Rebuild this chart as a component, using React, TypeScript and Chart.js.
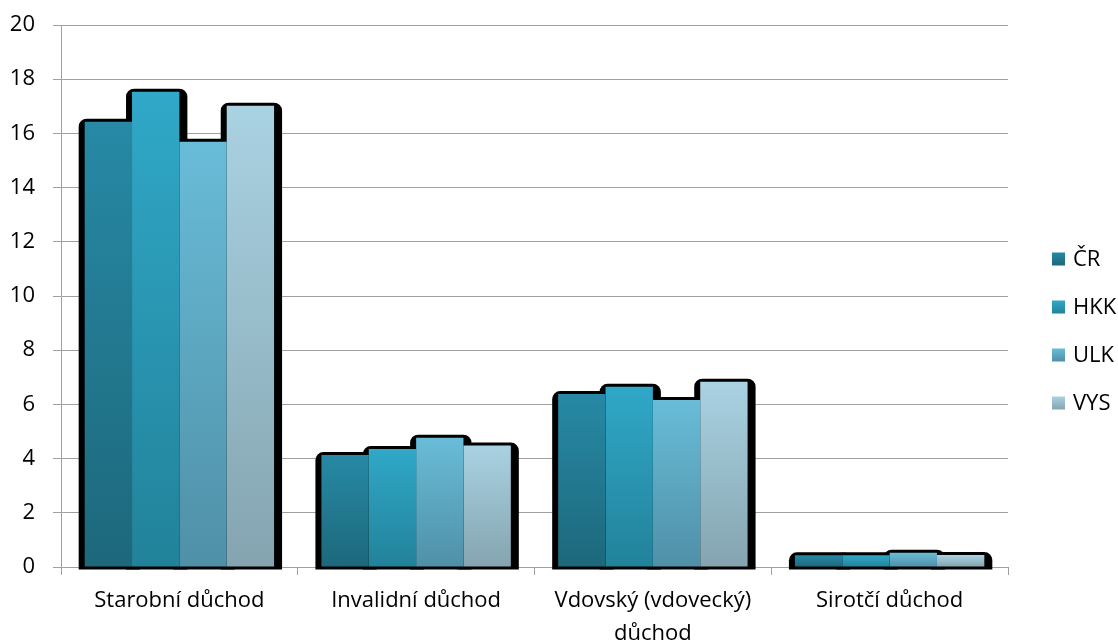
import { useEffect, useRef } from 'react';
import { Chart, registerables } from 'chart.js';

Chart.register(...registerables);

const categories: (string | string[])[] = [
  'Starobní důchod',
  'Invalidní důchod',
  ['Vdovský (vdovecký)', 'důchod'],
  'Sirotčí důchod',
];
const seriesNames = ['ČR', 'HKK', 'ULK', 'VYS'];
const crValues = [16.43, 4.13, 6.38, 0.43];
const hkkValues = [17.54, 4.35, 6.65, 0.43];
const ulkValues = [15.69, 4.77, 6.16, 0.53];
const vysValues = [17.02, 4.48, 6.84, 0.44];
const yMin = 0;
const yMax = 20;
const yStep = 2;

const topColors = ['#2789A5', '#30A8C8', '#69BCD8', '#A9D2E2'];
const bottomColors = ['#1D687B', '#22829A', '#4F90A7', '#84A4B0'];

const FONT = "'Open Sans', sans-serif";
const FONT_SIZE = 22;

function barGradient(i: number) {
  return (context: any) => {
    const chart = context.chart;
    const yScale = chart.scales?.y;
    if (context.type !== 'data' || !yScale) return topColors[i];
    const top = yScale.getPixelForValue(context.raw);
    const base = yScale.getPixelForValue(0);
    if (!isFinite(top) || !isFinite(base) || Math.abs(base - top) < 0.5) return topColors[i];
    const g = chart.ctx.createLinearGradient(0, top, 0, base);
    g.addColorStop(0, topColors[i]);
    g.addColorStop(1, bottomColors[i]);
    return g;
  };
}

const shadowPlugin = {
  id: 'barShadow',
  beforeDatasetsDraw(chart: any) {
    const ctx = chart.ctx;
    ctx.save();
    ctx.fillStyle = '#000000';
    chart.data.datasets.forEach((_ds: any, i: number) => {
      const meta = chart.getDatasetMeta(i);
      meta.data.forEach((bar: any) => {
        const { x, y, base, width } = bar.getProps(['x', 'y', 'base', 'width'], true);
        const l = x - width / 2 - 6;
        const r = x + width / 2 + 8;
        const t = y - 3;
        const b = base + 3;
        ctx.beginPath();
        ctx.roundRect(l, t, r - l, b - t, [8, 8, 0, 0]);
        ctx.fill();
      });
    });
    ctx.restore();
  },
};

const legendPlugin = {
  id: 'sideLegend',
  afterDraw(chart: any) {
    const ctx = chart.ctx;
    const box = 13;
    const boxX = 1052;
    const textX = 1073;
    const firstY = 259;
    const gap = 48;
    ctx.save();
    ctx.font = `${FONT_SIZE}px ${FONT}`;
    ctx.textBaseline = 'middle';
    ctx.textAlign = 'left';
    seriesNames.forEach((name, i) => {
      const cy = firstY + i * gap;
      const g = ctx.createLinearGradient(0, cy - box / 2, 0, cy + box / 2);
      g.addColorStop(0, topColors[i]);
      g.addColorStop(1, bottomColors[i]);
      ctx.fillStyle = g;
      ctx.fillRect(boxX, cy - box / 2, box, box);
      ctx.fillStyle = '#000000';
      ctx.fillText(name, textX, cy + 1);
    });
    ctx.restore();
  },
};

export default function App() {
  const canvasRef = useRef<HTMLCanvasElement | null>(null);

  useEffect(() => {
    if (!canvasRef.current) return;
    const seriesValues = [crValues, hkkValues, ulkValues, vysValues];
    const chart = new Chart(canvasRef.current, {
      type: 'bar',
      data: {
        labels: categories,
        datasets: seriesNames.map((name, i) => ({
          label: name,
          data: seriesValues[i],
          backgroundColor: barGradient(i),
          borderWidth: 0,
          categoryPercentage: 0.8,
          barPercentage: 1.0,
        })),
      },
      options: {
        responsive: false,
        animation: false,
        layout: { padding: { top: 25, right: 110, left: 0, bottom: 0 } },
        plugins: {
          legend: { display: false },
          tooltip: { enabled: false },
        },
        scales: {
          x: {
            grid: {
              display: true,
              drawOnChartArea: false,
              drawTicks: true,
              tickLength: 8,
              color: '#A0A0A0',
              offset: true,
            },
            border: { display: true, color: '#A0A0A0', width: 1 },
            ticks: {
              color: '#000000',
              padding: 9,
              maxRotation: 0,
              autoSkip: false,
              font: { family: FONT, size: FONT_SIZE, lineHeight: 1.5 },
            },
            afterFit: (scale: any) => {
              scale.height = 76;
            },
          },
          y: {
            min: yMin,
            max: yMax,
            grid: {
              color: '#A0A0A0',
              tickLength: 8,
              drawTicks: true,
            },
            border: { display: true, color: '#A0A0A0', width: 1 },
            ticks: {
              stepSize: yStep,
              color: '#000000',
              padding: 18,
              font: { family: FONT, size: FONT_SIZE },
            },
            afterFit: (scale: any) => {
              scale.width = 61;
              scale.paddingTop = 12;
              scale.paddingBottom = 12;
            },
          },
        },
      },
      plugins: [shadowPlugin, legendPlugin],
    });
    return () => chart.destroy();
  }, []);

  return (
    <div style={{ position: 'fixed', left: 0, top: 0, width: 1118, height: 643, background: '#ffffff' }}>
      <canvas ref={canvasRef} width={1118} height={643} style={{ display: 'block' }} />
    </div>
  );
}
